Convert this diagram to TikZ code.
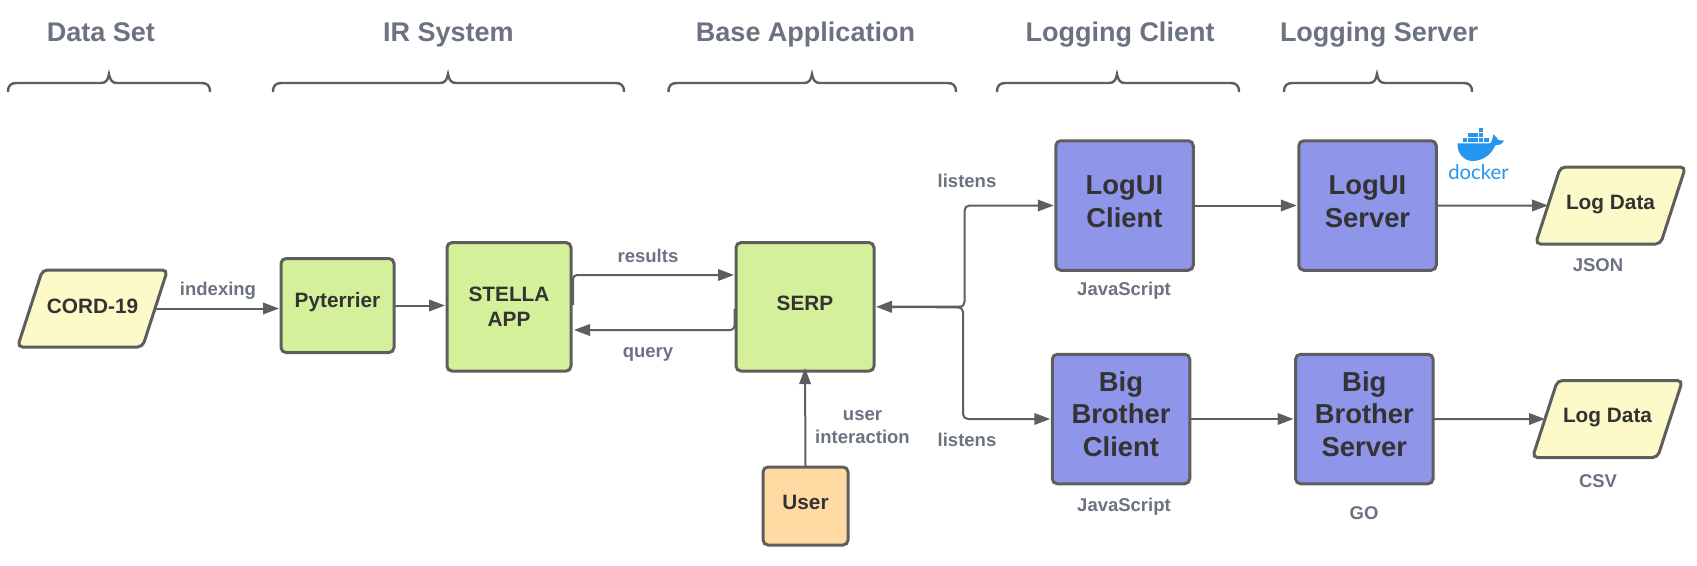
\documentclass[tikz,border=0pt]{standalone}
\usepackage{fontspec}
\setmainfont{Liberation Sans}
\newfontfamily\dockerfont{Lato}
\usetikzlibrary{arrows.meta,shapes.geometric}
\definecolor{lineg}{HTML}{5E5E5E}
\definecolor{headg}{HTML}{6B7280}
\definecolor{textd}{HTML}{333333}
\definecolor{greenf}{HTML}{D4F09B}
\definecolor{yellowf}{HTML}{FCFAC8}
\definecolor{purplef}{HTML}{8F95E8}
\definecolor{orangef}{HTML}{FFDBA3}
\definecolor{dockb}{HTML}{2496ED}
\newcommand{\fs}[2]{\fontsize{#1}{#2}\selectfont\bfseries}
\newcommand{\bracket}[3]{%
  \draw[bracketline] (#1,92) .. controls (#1,85) and ({#1+3},83) .. ({#1+9},83)
    -- ({#3-8},83) .. controls ({#3-3},83) and ({#3-1},80) .. (#3,74)
    .. controls ({#3+1},80) and ({#3+3},83) .. ({#3+8},83)
    -- ({#2-9},83) .. controls ({#2-3},83) and (#2,85) .. (#2,92);}
\tikzset{
  x=1pt,y=-1pt,
  bracketline/.style={draw=lineg,line width=2.4pt},
  boxbase/.style={draw=lineg,line width=3pt,rounded corners=5pt,inner sep=0pt,outer sep=0pt},
  greenbox/.style={boxbase,fill=greenf},
  purplebox/.style={boxbase,fill=purplef,minimum width=137.5pt,minimum height=129.5pt},
  orangebox/.style={boxbase,fill=orangef},
  databox/.style={boxbase,fill=yellowf,trapezium,trapezium left angle=76,trapezium right angle=104,
    trapezium stretches=true,minimum width=150pt,minimum height=77pt},
  boxtext/.style={text=textd,align=center,inner sep=0pt},
  smallbox/.style={boxtext,font=\fs{20.8}{24.5}},
  bigbox/.style={boxtext,font=\fs{27.4}{32.6}},
  header/.style={text=headg,font=\fs{27}{32},inner sep=0pt,anchor=base},
  note/.style={text=headg,font=\fs{18.5}{22.5},align=center,inner sep=0pt},
  conn/.style={draw=lineg,line width=2pt,-{Triangle[length=16pt,width=11.5pt]}},
}
\begin{document}
\begin{tikzpicture}
\useasboundingbox (0,0) rectangle (1697,565);
% headers
\node[header] (h1) at (101,41.5) {Data Set};
\node[header] (h2) at (448.5,41.5) {IR System};
\node[header] (h3) at (805.5,41.5) {Base Application};
\node[header] (h4) at (1120,41.5) {Logging Client};
\node[header] (h5) at (1379,41.5) {Logging Server};
% brackets
\bracket{8}{210}{109}
\bracket{273}{624}{448}
\bracket{668.5}{956}{812}
\bracket{997}{1239}{1117}
\bracket{1284}{1472}{1377}
% boxes
\node[databox,label={[smallbox,yshift=2pt]center:CORD-19}] (cord) at (92.5,308.5) {\rule{10pt}{0pt}\rule{0pt}{10pt}};
\node[greenbox,minimum width=113pt,minimum height=94pt,label={[smallbox,yshift=3pt]center:Pyterrier}] (pyt) at (337.5,305.5) {};
\node[greenbox,minimum width=124pt,minimum height=128.5pt,label={[smallbox]center:STELLA\\APP}] (stella) at (509,306.8) {};
\node[greenbox,minimum width=138pt,minimum height=128.5pt,label={[smallbox,yshift=3pt]center:SERP}] (serp) at (805,306.8) {};
\node[orangebox,minimum width=85pt,minimum height=78pt,label={[smallbox,yshift=4pt]center:User}] (user) at (805.5,506) {};
\node[purplebox,label={[bigbox,yshift=3.5pt]center:LogUI\\Client}] (lc) at (1124.5,205.5) {};
\node[purplebox,label={[bigbox,yshift=3.5pt]center:LogUI\\Server}] (ls) at (1367.5,205.5) {};
\node[purplebox,label={[bigbox,yshift=5pt]center:Big\\Brother\\Client}] (bc) at (1121,419) {};
\node[purplebox,label={[bigbox,yshift=5pt]center:Big\\Brother\\Server}] (bs) at (1364.3,419) {};
\node[databox,label={[smallbox,yshift=1pt]center:Log Data}] (d1) at (1610.5,205.5) {\rule{10pt}{0pt}\rule{0pt}{10pt}};
\node[databox,label={[smallbox,yshift=1pt]center:Log Data}] (d2) at (1607.5,419) {\rule{10pt}{0pt}\rule{0pt}{10pt}};
% labels
\node[note] (lindex) at (218,290.5) {indexing};
\node[note] (lres) at (648,255.5) {results};
\node[note] (lqry) at (648,354) {query};
\node[note] (luser) at (862.5,427) {user\\interaction};
\node[note] (ll1) at (967,180.5) {listens};
\node[note] (ll2) at (967,439.5) {listens};
\node[note] (ljs1) at (1124,291) {JavaScript};
\node[note] (ljs2) at (1124,507) {JavaScript};
\node[note] (lgo) at (1364,513) {GO};
\node[note] (ljson) at (1598,265) {JSON};
\node[note] (lcsv) at (1598,481) {CSV};
% connector points
\coordinate (fork) at (960,307);
\coordinate (vup) at (964.5,250);
\coordinate (vdn) at (963,370);
\coordinate (ry) at (0,275);
\coordinate (qy) at (0,330);
% connectors
\draw[conn] (cord.east) -- ([xshift=-2pt]pyt.west |- cord.east);
\draw[conn] (pyt.east) -- ([xshift=-2pt]stella.west |- pyt.east);
\draw[conn,rounded corners=4pt] ([xshift=2pt,yshift=2pt]stella.east) |- ([xshift=-2pt]serp.west |- ry);
\draw[conn,rounded corners=4pt] ([xshift=-1.5pt,yshift=-2pt]serp.west) |- ([xshift=3pt]stella.east |- qy);
\draw[conn] (user.north) -- ([yshift=3pt]serp.south);
\draw[conn,line width=2.6pt] (fork) -- ([xshift=2pt]serp.east);
\draw[conn,rounded corners=5pt] (fork) -| (vup) |- ([xshift=-2pt]lc.west);
\draw[conn,rounded corners=5pt] (fork) -| (vdn) |- ([xshift=-2pt]bc.west);
\draw[conn] (lc.east) -- ([xshift=-2pt]ls.west);
\draw[conn] (bc.east) -- ([xshift=-2pt]bs.west);
\draw[conn] (ls.east) -- (d1.west);
\draw[conn] (bs.east) -- (d2.west);
% docker logo
\begin{scope}[shift={(1400,110)},x=0.3333pt,y=-0.3333pt]
  \fill[dockb] (173,100) -- (268,100) .. controls (275,100) and (277,88) .. (280,73)
    .. controls (288,78) and (292,86) .. (295,90) -- (312,92)
    .. controls (306,104) and (295,106) .. (286,106)
    .. controls (272,140) and (240,154) .. (215,153)
    .. controls (188,151) and (170,125) .. (173,100) -- cycle;
  \foreach \bx in {188,204,220,236,252} \fill[dockb] (\bx,83) rectangle ++(14,14);
  \foreach \bx in {204,220,236} \fill[dockb] (\bx,68) rectangle ++(14,13.5);
  \fill[dockb] (236,54) rectangle ++(14,13);
\end{scope}
\node[text=dockb,inner sep=0pt,font=\dockerfont\fontsize{20.3}{22}\selectfont] (docker) at (1478.5,172) {docker};
\end{tikzpicture}
\end{document}
